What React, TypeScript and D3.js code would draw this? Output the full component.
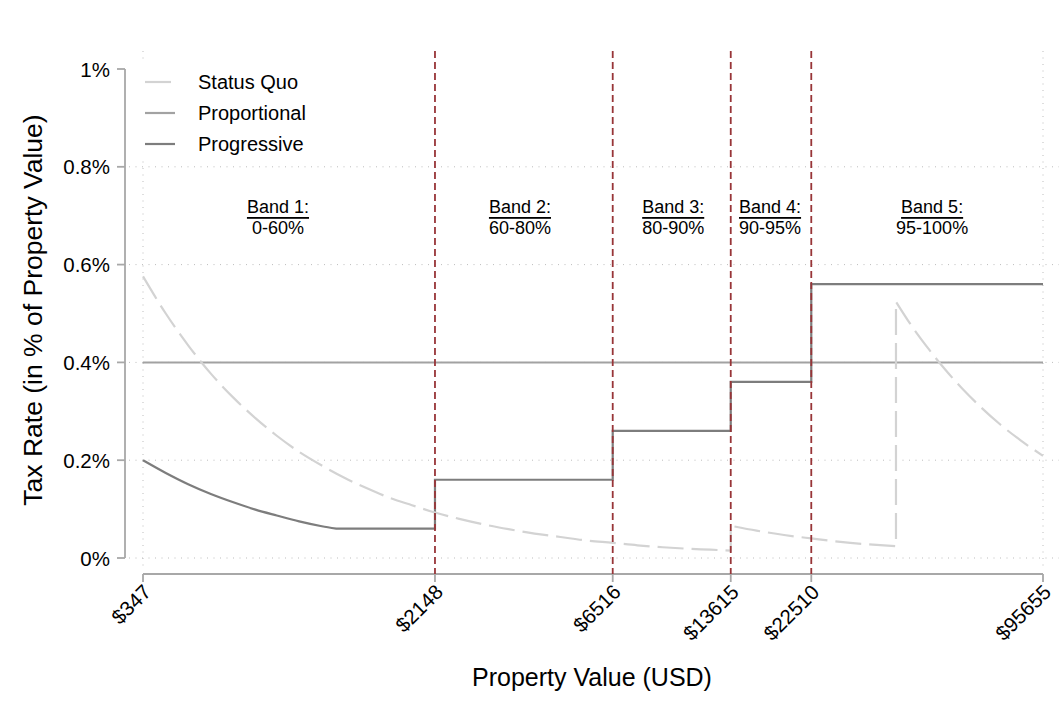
import React from "react";
import * as d3 from "d3";

// ---------- data ----------
const xTickValues = [347, 2148, 6516, 13615, 22510, 95655];
const xTickLabels = ["$347", "$2148", "$6516", "$13615", "$22510", "$95655"];
const bandBounds = [2148, 6516, 13615, 22510];
const yTickValues = [0, 0.2, 0.4, 0.6, 0.8, 1];
const yTickLabels = ["0%", "0.2%", "0.4%", "0.6%", "0.8%", "1%"];
const yGridValues = [0, 0.2, 0.4, 0.6, 0.8];

const bandTitles = ["Band 1:", "Band 2:", "Band 3:", "Band 4:", "Band 5:"];
const bandRanges = ["0-60%", "60-80%", "80-90%", "90-95%", "95-100%"];
const bandLabelX = [806, 3652, 9506, 17400, 47870];

// Status quo (three pieces, joined by vertical jumps)
const sq1X = [347, 400, 460, 530, 610, 700, 800, 920, 1060, 1220, 1400, 1620, 1860, 2148, 2500, 2900, 3400, 4000, 4700, 5500, 6516, 7600, 8900, 10400, 12000, 13615];
const sq1Y = [0.576, 0.5, 0.435, 0.377, 0.328, 0.286, 0.25, 0.217, 0.189, 0.164, 0.143, 0.123, 0.108, 0.093, 0.08, 0.069, 0.059, 0.05, 0.043, 0.036, 0.031, 0.026, 0.022, 0.019, 0.017, 0.015];
const sq2X = [13615, 16000, 19000, 22510, 27000, 32000, 38200];
const sq2Y = [0.066, 0.056, 0.047, 0.04, 0.033, 0.028, 0.024];
const sq3X = [38200, 42000, 47000, 52000, 58000, 65000, 73000, 83000, 95655];
const sq3Y = [0.524, 0.476, 0.426, 0.385, 0.345, 0.308, 0.274, 0.241, 0.209];

// Proportional
const propX = [347, 95655];
const propY = [0.4, 0.4];

// Progressive: curved start then steps
const progCurveX = [347, 400, 460, 530, 610, 700, 800, 920, 1060, 1160];
const progCurveY = [0.2, 0.174, 0.151, 0.131, 0.114, 0.099, 0.087, 0.075, 0.065, 0.06];
const progStepX = [1160, 2148, 2148, 6516, 6516, 13615, 13615, 22510, 22510, 95655];
const progStepY = [0.06, 0.06, 0.16, 0.16, 0.26, 0.26, 0.36, 0.36, 0.56, 0.56];

const legendLabels = ["Status Quo", "Proportional", "Progressive"];

// ---------- styles ----------
const W = 1062;
const H = 706;
const FONT = "'Liberation Sans', Arial, Helvetica, sans-serif";
const C_SQ = "#d3d3d3";
const C_PROP = "#a2a2a2";
const C_PROG = "#7d7d7d";
const C_RED = "#983538";
const C_AXIS = "#a8a8a8";
const C_GRID = "#bdbdbd";

export default function App() {
  const x = d3.scaleLog().domain([347, 95655]).range([143, 1043]);
  const y = d3.scaleLinear().domain([0, 1]).range([558, 69]);
  const plotTop = 51;
  const plotBottom = 574;
  const plotLeft = 129;
  const plotRight = 1059;

  const zip = (xs: number[], ys: number[]) => xs.map((v, i) => [v, ys[i]] as [number, number]);
  const curveLine = d3
    .line<[number, number]>()
    .x((d) => x(d[0]))
    .y((d) => y(d[1]))
    .curve(d3.curveMonotoneX);
  const linLine = d3
    .line<[number, number]>()
    .x((d) => x(d[0]))
    .y((d) => y(d[1]));

  const sqPath =
    (curveLine(zip(sq1X, sq1Y)) || "") +
    (curveLine(zip(sq2X, sq2Y)) || "").replace(/^M/, "L") +
    (curveLine(zip(sq3X, sq3Y)) || "").replace(/^M/, "L");
  const propPath = linLine(zip(propX, propY)) || "";
  const progPath =
    (curveLine(zip(progCurveX, progCurveY)) || "") +
    (linLine(zip(progStepX, progStepY)) || "").replace(/^M/, "L");

  const legendY = [82, 113, 144];
  const legendStyles = [
    { c: C_SQ, dash: "26,8" },
    { c: C_PROP, dash: "none" },
    { c: C_PROG, dash: "none" },
  ];

  return (
    <svg
      width={W}
      height={H}
      style={{ position: "absolute", left: 0, top: 0, background: "#fff" }}
      fontFamily={FONT}
    >
      <rect x={0} y={0} width={W} height={H} fill="#fff" />
      {/* grid */}
      {yGridValues.map((v) => (
        <line
          key={"gy" + v}
          x1={plotLeft}
          x2={plotRight}
          y1={y(v)}
          y2={y(v)}
          stroke={C_GRID}
          strokeWidth={1}
          strokeDasharray="1,5.5"
        />
      ))}
      {[347, 95655].map((v) => (
        <line
          key={"gx" + v}
          x1={x(v)}
          x2={x(v)}
          y1={plotTop}
          y2={plotBottom - 4}
          stroke={C_GRID}
          strokeWidth={1}
          strokeDasharray="1,5.5"
        />
      ))}
      {/* legend background */}
      <rect x={129} y={61} width={200} height={100} fill="#fff" />

      {/* y axis */}
      <line x1={125} x2={125} y1={y(1)} y2={y(0)} stroke={C_AXIS} strokeWidth={1.8} />
      {yTickValues.map((v, i) => (
        <g key={"yt" + v}>
          <line x1={117} x2={125} y1={y(v)} y2={y(v)} stroke={C_AXIS} strokeWidth={1.8} />
          <text
            x={110}
            y={y(v)}
            textAnchor="end"
            dominantBaseline="central"
            fontSize={20.5}
            fill="#000"
          >
            {yTickLabels[i]}
          </text>
        </g>
      ))}

      {/* x axis */}
      <line x1={x(347)} x2={x(95655)} y1={574} y2={574} stroke={C_AXIS} strokeWidth={1.8} />
      {xTickValues.map((v, i) => (
        <g key={"xt" + v}>
          <line x1={x(v)} x2={x(v)} y1={574} y2={582} stroke={C_AXIS} strokeWidth={1.8} />
          <text
            transform={`translate(${x(v) + 4},${588}) rotate(-45)`}
            textAnchor="end"
            dominantBaseline="central"
            fontSize={20.5}
            fill="#000"
          >
            {xTickLabels[i]}
          </text>
        </g>
      ))}

      {/* series */}
      <path d={propPath} fill="none" stroke={C_PROP} strokeWidth={2} />
      <path d={progPath} fill="none" stroke={C_PROG} strokeWidth={2.2} />
      <path d={sqPath} fill="none" stroke={C_SQ} strokeWidth={2.2} strokeDasharray="26,8" />

      {/* band boundaries */}
      {bandBounds.map((v) => (
        <line
          key={"bb" + v}
          x1={x(v)}
          x2={x(v)}
          y1={plotTop}
          y2={plotBottom}
          stroke={C_RED}
          strokeWidth={1.8}
          strokeDasharray="7,4"
        />
      ))}

      {/* band labels */}
      {bandTitles.map((t, i) => (
        <g key={"bl" + i}>
          <text
            x={x(bandLabelX[i])}
            y={207}
            textAnchor="middle"
            dominantBaseline="central"
            fontSize={18}
            textDecoration="underline"
            fill="#000"
          >
            {t}
          </text>
          <text
            x={x(bandLabelX[i])}
            y={228}
            textAnchor="middle"
            dominantBaseline="central"
            fontSize={18}
            fill="#000"
          >
            {bandRanges[i]}
          </text>
        </g>
      ))}

      {/* legend */}
      {legendLabels.map((l, i) => (
        <g key={"lg" + i}>
          <line
            x1={145}
            x2={175}
            y1={legendY[i]}
            y2={legendY[i]}
            stroke={legendStyles[i].c}
            strokeWidth={2.2}
            strokeDasharray={legendStyles[i].dash}
          />
          <text x={198} y={legendY[i]} dominantBaseline="central" fontSize={20} fill="#000">
            {l}
          </text>
        </g>
      ))}

      {/* axis titles */}
      <text
        x={592}
        y={677}
        textAnchor="middle"
        dominantBaseline="central"
        fontSize={25}
        fill="#000"
      >
        Property Value (USD)
      </text>
      <text
        transform={`translate(33,${310}) rotate(-90)`}
        textAnchor="middle"
        dominantBaseline="central"
        fontSize={26.5}
        fill="#000"
      >
        Tax Rate (in % of Property Value)
      </text>
    </svg>
  );
}
